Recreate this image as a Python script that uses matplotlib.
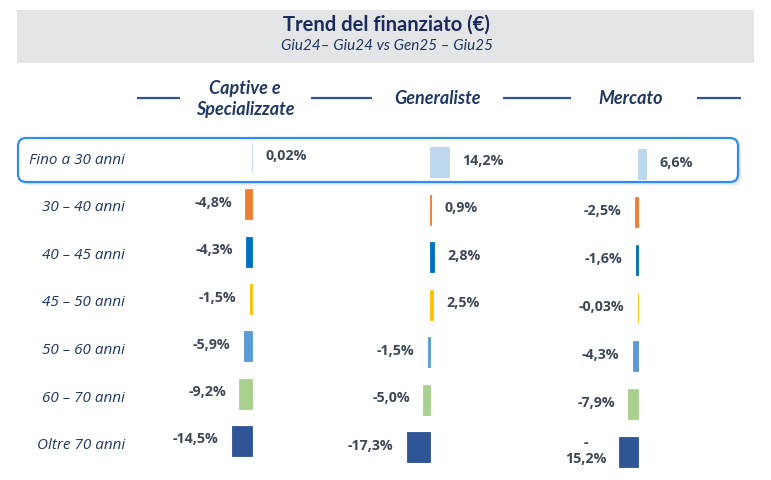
import matplotlib
matplotlib.use('Agg')
import matplotlib.pyplot as plt
from matplotlib.patches import FancyBboxPatch, Rectangle

# data
age_groups = ['Fino a 30 anni', '30 – 40 anni', '40 – 45 anni', '45 – 50 anni',
              '50 – 60 anni', '60 – 70 anni', 'Oltre 70 anni']
captive = [0.02, -4.8, -4.3, -1.5, -5.9, -9.2, -14.5]
generaliste = [14.2, 0.9, 2.8, 2.5, -1.5, -5.0, -17.3]
mercato = [6.6, -2.5, -1.6, -0.03, -4.3, -7.9, -15.2]
captive_labels = ['0,02%', '-4,8%', '-4,3%', '-1,5%', '-5,9%', '-9,2%', '-14,5%']
generaliste_labels = ['14,2%', '0,9%', '2,8%', '2,5%', '-1,5%', '-5,0%', '-17,3%']
mercato_labels = ['6,6%', '-2,5%', '-1,6%', '-0,03%', '-4,3%', '-7,9%', '-\n15,2%']
bar_colors = ['#BDD7EE', '#ED7D31', '#0070C0', '#FFC000', '#5B9BD5', '#A9D18E', '#2F5597']

W, H = 771, 480
NAVY = '#1F3864'
VALUE_GREY = '#3E4858'
FONT = 'Open Sans'


def px_rect(x0, y0, w, h):
    # pixel box (top-left origin) -> figure fraction rect
    return [x0 / W, 1 - (y0 + h) / H, w / W, h / H]


fig = plt.figure(figsize=(W / 100, H / 100), dpi=100)
fig.patch.set_facecolor('white')

# background layer in pixel units for banner, headers and highlight box
bg = fig.add_axes([0, 0, 1, 1])
bg.set_xlim(0, W)
bg.set_ylim(H, 0)
bg.axis('off')

bg.add_patch(Rectangle((17, 10), 737, 53, facecolor='#E4E5E7', edgecolor='none'))
bg.text(386, 25, 'Trend del finanziato (€)', ha='center', va='center',
        fontsize=14.5, fontweight='bold', color='#1A2B5C', family='Lato')
bg.text(387, 46, 'Giu24– Giu24 vs Gen25 – Giu25', ha='center', va='center',
        fontsize=11, style='italic', color=NAVY, family='Lato')

# column headers with separator lines
header_kw = dict(ha='center', va='center', fontsize=13, fontweight='bold',
                 style='italic', color=NAVY, family='Lato')
bg.text(245, 99, 'Captive e\nSpecializzate', linespacing=1.25, **header_kw)
bg.text(438, 98, 'Generaliste', **header_kw)
bg.text(631, 98, 'Mercato', **header_kw)
for x0, x1 in [(137, 180), (311, 372), (503, 571), (697, 741)]:
    bg.plot([x0, x1], [98, 98], color='#2F5597', lw=1.6, solid_capstyle='butt')

# highlighted first row
for off, a in [(4, 0.06), (3, 0.08), (2, 0.1)]:
    bg.add_patch(FancyBboxPatch((18 + off, 138 + off), 720, 44,
                                boxstyle='round,pad=0,rounding_size=8',
                                facecolor='#808080', edgecolor='none', alpha=a))
bg.add_patch(FancyBboxPatch((18, 138), 720, 44, boxstyle='round,pad=0,rounding_size=8',
                            facecolor='white', edgecolor='#2F8CF0', lw=1.6))

# row labels
label_y0 = 160
for i, name in enumerate(age_groups):
    bg.text(125, label_y0 + i * 47.6, name, ha='right', va='center', fontsize=11,
            style='italic', color=NAVY, family=FONT)

# one axes per column, bars drawn from the data
baselines = [252, 430, 638]
first_rows = [157, 162, 164]
row_steps = [47.3, 47.5, 48.0]
px_per_pct = [1.38, 1.33, 1.22]
half_w = 120
columns = [(captive, captive_labels), (generaliste, generaliste_labels),
           (mercato, mercato_labels)]

for (vals, labels), base, y0, step, scale in zip(columns, baselines, first_rows,
                                                 row_steps, px_per_pct):
    top = y0 - step / 2
    ax = fig.add_axes(px_rect(base - half_w, top, 2 * half_w, step * len(vals)))
    ax.patch.set_alpha(0)
    ax.set_xlim(-half_w / scale, half_w / scale)
    ax.set_ylim(len(vals) - 0.5, -0.5)
    ax.axis('off')
    ax.barh(range(len(vals)), vals, height=30 / step, color=bar_colors,
            edgecolor=bar_colors, linewidth=0.6)
    for i, (v, lab) in enumerate(zip(vals, labels)):
        side = 1 if v >= 0 else -1
        ax.annotate(lab, (v, i), xytext=(side * 9.5, 1), textcoords='offset points',
                    ha='left' if side > 0 else 'right', va='center',
                    multialignment='center', fontsize=10.3, fontweight='bold',
                    color=VALUE_GREY, family=FONT)

fig.savefig('out.png', dpi=100)
